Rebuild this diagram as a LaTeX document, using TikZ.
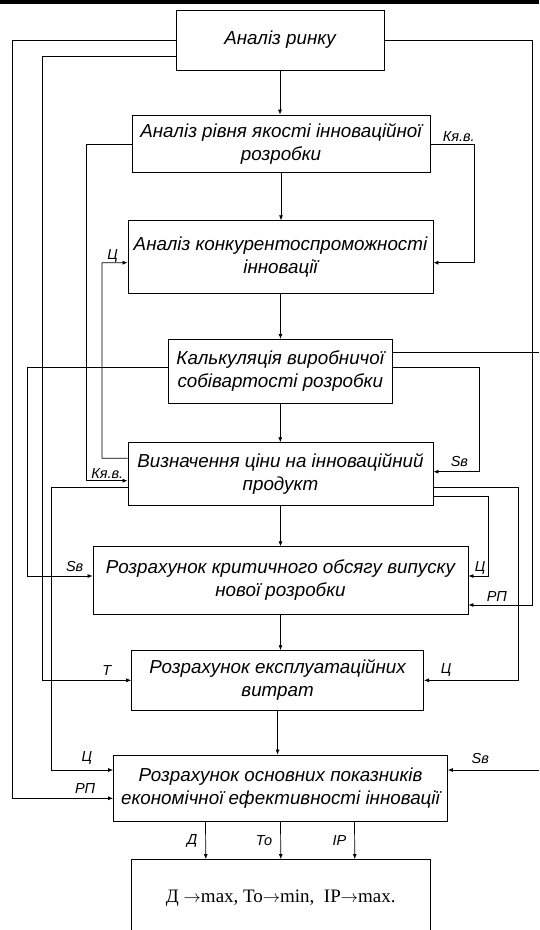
\documentclass[tikz,border=0pt]{standalone}
\usepackage{fontspec}
\setmainfont{Liberation Sans}
\newfontfamily\timesfont{Liberation Serif}
\usetikzlibrary{arrows.meta}

\begin{document}
\begin{tikzpicture}[x=1pt, y=-1pt,
	blok/.style={draw, line width=0.8pt, align=center, inner sep=0pt, font=\fontsize{18.8}{23}\selectfont\itshape},
	zv/.style={line width=0.7pt, -{Latex[length=5pt,width=4pt]}},
	lin/.style={line width=0.7pt},
	lbl/.style={inner sep=0pt, font=\fontsize{14.5}{16}\selectfont\itshape}]
			\useasboundingbox (0,0) rectangle (539,930);
			\clip (0,0) rectangle (539,930);
			\fill (0,0) rectangle (539,3.5);

			\node[blok, minimum width=208pt, minimum height=60pt] (rynok) at (280,40) {Аналіз ринку};
			\node[blok, minimum width=298pt, minimum height=57.7pt] (yakist) at (281,143.9) {Аналіз рівня якості інноваційної\\розробки};
			\node[blok, minimum width=305pt, minimum height=72.6pt] (konk) at (280.5,257) {Аналіз конкурентоспроможності\\інновації};
			\node[blok, minimum width=223.5pt, minimum height=64pt] (kalk) at (280.3,371.3) {Калькуляція виробничої\\собівартості розробки};
			\node[blok, minimum width=305pt, minimum height=62.3pt] (tsina) at (280.5,473.9) {Визначення ціни на інноваційний\\продукт};
			\node[blok, minimum width=375pt, minimum height=67.6pt] (obsyag) at (280.5,580.5) {Розрахунок критичного обсягу випуску\\нової розробки};
			\node[blok, minimum width=292pt, minimum height=59.3pt] (vytraty) at (277.6,680.3) {Розрахунок експлуатаційних\\витрат};
			\node[blok, minimum width=334pt, minimum height=66.7pt] (pokaz) at (280.5,788.3) {Розрахунок основних показників\\економічної ефективності інновації};
			\node[draw, line width=0.8pt, minimum width=298.3pt, minimum height=78pt, font=\timesfont\fontsize{19}{21}\selectfont] (result) at (280.8,898.5) {Д {$\rightarrow$}max, То{$\rightarrow$}min,\ \ ІР{$\rightarrow$}max.};

			\coordinate (kalkvyhid) at (539,352);
			\coordinate (pokazvhid) at (539,770);

			\foreach \a/\b in {rynok/yakist, yakist/konk, konk/kalk, kalk/tsina, tsina/obsyag, obsyag/vytraty, vytraty/pokaz}
				\draw[zv] (\a.south) -- (\a.south |- \b.north);

			\draw[zv] (rynok.west) -- (12.7,40) |- ([yshift=-10pt]pokaz.west) node[lbl, anchor=base east, xshift=-17.5pt, yshift=5pt] {РП};
			\draw[zv] ([yshift=-16pt]rynok.west) -- (42,56) |- (vytraty.west) node[lbl, anchor=base east, xshift=-19.7pt, yshift=4.4pt] {Т};
			\draw[zv] (rynok.east) -- (532,40) |- ([yshift=-24.5pt]obsyag.east) node[lbl, anchor=base west, xshift=18pt, yshift=3.6pt] {РП};
			\draw[zv] (yakist.west) -- (86.6,143.9) |- ([yshift=-6.8pt]tsina.west) node[lbl, anchor=base east, xshift=-4pt, yshift=2.7pt] {Кя.в.};
			\draw[zv] (yakist.east) node[lbl, anchor=base west, xshift=12pt, yshift=2pt] {Кя.в.} -- (474.5,143.9) |- ([yshift=-5.7pt]konk.east);
			\draw[zv] ([yshift=15.6pt]tsina.west) -- (102,458.3) |- ([yshift=-5.7pt]konk.west) node[lbl, anchor=base east, xshift=-9.4pt, yshift=3.7pt] {Ц};
			\draw[lin] ([yshift=19.3pt]kalk.east) -- (kalkvyhid);
			\draw[zv] ([yshift=3.6pt]kalk.west) -- (27,367.7) |- ([yshift=4.5pt]obsyag.west) node[lbl, anchor=base east, xshift=-9pt, yshift=4.6pt] {Sв};
			\draw[zv] ([yshift=3.6pt]kalk.east) -- (479.6,367.7) |- ([yshift=2.2pt]tsina.east) node[lbl, anchor=base west, xshift=17pt, yshift=5.3pt] {Sв};
			\draw[zv] ([yshift=-13.8pt]tsina.west) -- (51,487.7) |- ([yshift=18.3pt]pokaz.west) node[lbl, anchor=base east, xshift=-20.5pt, yshift=9pt] {Ц};
			\draw[zv] ([yshift=-13.8pt]tsina.east) -- (518.5,487.7) |- (vytraty.east) node[lbl, anchor=base west, xshift=16.4pt, yshift=6.7pt] {Ц};
			\draw[zv] ([yshift=-22.8pt]tsina.east) -- (488.5,496.7) |- ([yshift=4.5pt]obsyag.east) node[lbl, anchor=base west, xshift=6pt, yshift=5pt] {Ц};
			\draw[zv] (pokazvhid) -- ([yshift=18.3pt]pokaz.east) node[lbl, anchor=base west, xshift=23.4pt, yshift=7pt] {Sв};

			\foreach \dx/\txt in {-75/Д, 0/То, 74/ІР}
				\draw[zv] ([xshift=\dx pt]pokaz.south) -- ([xshift=\dx pt]result.north) node[lbl, midway, anchor=east, xshift=-8pt] {\txt};
		\end{tikzpicture}
\end{document}
